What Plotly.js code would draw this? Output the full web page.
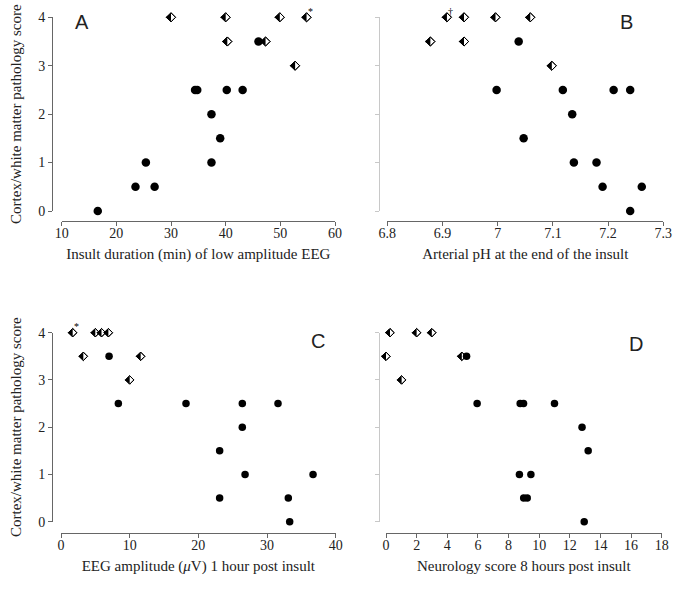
<!DOCTYPE html>
<html><head><meta charset="utf-8">
<script src="https://cdn.plot.ly/plotly-3.0.1.min.js"></script>
<style>html,body{margin:0;padding:0;background:#fff}#chart{width:685px;height:590px}</style>
</head><body><div id="chart"></div>
<script>
// ---------- data ----------
const scoreTicks = [0, 1, 2, 3, 4];

// A: insult duration (min) of low amplitude EEG
const A_circX = [16.6, 23.5, 27.0, 25.4, 37.4, 39.0, 37.4, 34.4, 34.8, 40.2, 43.1, 46.0];
const A_circY = [0, 0.5, 0.5, 1, 1, 1.5, 2, 2.5, 2.5, 2.5, 2.5, 3.5];
const A_diamX = [30.0, 40.0, 49.9, 54.8, 40.3, 47.3, 52.7];
const A_diamY = [4, 4, 4, 4, 3.5, 3.5, 3];
const A_diamNote = ['', '', '', '*', '', '', ''];
const A_ticks = [10, 20, 30, 40, 50, 60];

// B: arterial pH at the end of the insult
const B_circX = [7.038, 6.998, 7.118, 7.21, 7.24, 7.135, 7.047, 7.138, 7.179, 7.19, 7.261, 7.24];
const B_circY = [3.5, 2.5, 2.5, 2.5, 2.5, 2, 1.5, 1, 1, 0.5, 0.5, 0];
const B_diamX = [6.908, 6.939, 6.996, 7.059, 6.878, 6.939, 7.098];
const B_diamY = [4, 4, 4, 4, 3.5, 3.5, 3];
const B_diamNote = ['†', '', '', '', '', '', ''];
const B_ticks = [6.8, 6.9, 7.0, 7.1, 7.2, 7.3];
const B_tickText = ['6.8', '6.9', '7', '7.1', '7.2', '7.3'];

// C: EEG amplitude (uV) 1 hour post insult
const C_circX = [7.0, 8.35, 18.2, 26.4, 31.6, 26.4, 23.1, 26.8, 36.7, 23.1, 33.1, 33.3];
const C_circY = [3.5, 2.5, 2.5, 2.5, 2.5, 2, 1.5, 1, 1, 0.5, 0.5, 0];
const C_diamX = [1.7, 5.0, 5.9, 6.9, 3.25, 11.6, 10.0];
const C_diamY = [4, 4, 4, 4, 3.5, 3.5, 3];
const C_diamNote = ['*', '', '', '', '', '', ''];
const C_ticks = [0, 10, 20, 30, 40];

// D: neurology score 8 hours post insult
const D_circX = [5.26, 5.95, 8.76, 8.98, 11.0, 12.8, 13.2, 8.71, 9.46, 8.99, 9.22, 12.94];
const D_circY = [3.5, 2.5, 2.5, 2.5, 2.5, 2, 1.5, 1, 1, 0.5, 0.5, 0];
const D_diamX = [0.26, 2.0, 2.99, 0.0, 4.95, 1.02];
const D_diamY = [4, 4, 4, 3.5, 3.5, 3];
const D_diamNote = ['', '', '', '', '', ''];
const D_ticks = [0, 2, 4, 6, 8, 10, 12, 14, 16, 18];

const yTitle = 'Cortex/white matter pathology score';
const xTitles = {
  A: 'Insult duration (min) of low amplitude EEG',
  B: 'Arterial pH at the end of the insult',
  C: 'EEG amplitude (<i>μ</i>V) 1 hour post insult',
  D: 'Neurology score 8 hours post insult'
};

// ---------- layout geometry (pixels in a 685x590 page) ----------
const W = 685, H = 590;
const fx = p => p / W;
const fy = p => 1 - p / H;
const SERIF = '"Liberation Serif", "Times New Roman", serif';
const AXC = '#666';

const panels = [
  {k: 'A', xa: 'x', ya: 'y', cx: A_circX, cy: A_circY, dx: A_diamX, dy: A_diamY, note: A_diamNote,
   tv: A_ticks, tt: A_ticks.map(String), xr: [10, 60], xd: [61.7, 335], yd: [211, 17.3], xl: 221, yl: 52,
   main: true, letter: [82, 22], ms: 8.5, ds: 7},
  {k: 'B', xa: 'x2', ya: 'y2', cx: B_circX, cy: B_circY, dx: B_diamX, dy: B_diamY, note: B_diamNote,
   tv: B_ticks, tt: B_tickText, xr: [6.8, 7.3], xd: [387.3, 663.3], yd: [211, 17.3], xl: 221, yl: 379,
   main: false, letter: [626, 22], ms: 8.5, ds: 7},
  {k: 'C', xa: 'x3', ya: 'y3', cx: C_circX, cy: C_circY, dx: C_diamX, dy: C_diamY, note: C_diamNote,
   tv: C_ticks, tt: C_ticks.map(String), xr: [0, 40], xd: [61, 335.7], yd: [521.7, 332.7], xl: 533, yl: 52,
   main: true, letter: [318, 341], ms: 7.5, ds: 6.5},
  {k: 'D', xa: 'x4', ya: 'y4', cx: D_circX, cy: D_circY, dx: D_diamX, dy: D_diamY, note: D_diamNote,
   tv: D_ticks, tt: D_ticks.map(String), xr: [0, 18], xd: [386, 661.7], yd: [521.7, 332.7], xl: 533, yl: 379,
   main: false, letter: [636, 344], ms: 7.5, ds: 6.5}
];

const traces = [];
const layout = {
  width: W, height: H,
  margin: {l: 0, r: 0, t: 0, b: 0},
  paper_bgcolor: '#fff', plot_bgcolor: 'rgba(0,0,0,0)',
  showlegend: false,
  font: {family: SERIF, size: 14, color: '#222'},
  annotations: []
};

panels.forEach((p, i) => {
  const n = i === 0 ? '' : String(i + 1);
  // half-filled diamonds: white diamond, black left half, outline on top
  traces.push({type: 'scatter', mode: 'markers', x: p.dx, y: p.dy, xaxis: p.xa, yaxis: p.ya,
    cliponaxis: false, hoverinfo: 'skip',
    marker: {symbol: 'diamond', size: p.ds, color: '#fff', line: {color: '#000', width: 1}}});
  const ts = p.ds * 1.03;
  traces.push({type: 'scatter', mode: 'markers', x: p.dx, y: p.dy, xaxis: p.xa, yaxis: p.ya,
    cliponaxis: false, hoverinfo: 'skip',
    marker: {symbol: 'triangle-down', size: ts, angle: 90, standoff: ts / 4, color: '#000', line: {width: 0}}});
  traces.push({type: 'scatter', mode: 'markers', x: p.dx, y: p.dy, xaxis: p.xa, yaxis: p.ya,
    cliponaxis: false, text: p.note,
    marker: {symbol: 'diamond-open', size: p.ds, color: '#000', line: {color: '#000', width: 1}}});
  // filled circles
  traces.push({type: 'scatter', mode: 'markers', x: p.cx, y: p.cy, xaxis: p.xa, yaxis: p.ya,
    cliponaxis: false,
    marker: {symbol: 'circle', size: p.ms, color: '#000', line: {width: 0}}});

  // small superscript notes next to marked diamonds
  p.note.forEach((t, j) => {
    if (!t) return;
    layout.annotations.push({xref: p.xa, yref: p.ya, x: p.dx[j], y: p.dy[j], text: t,
      showarrow: false, xanchor: 'center', yanchor: 'middle', xshift: 4, yshift: 6,
      font: {family: SERIF, size: 10, color: '#000'}});
  });

  const yc = p.main ? AXC : '#c8c8c8';
  layout['xaxis' + n] = {
    domain: [fx(p.xd[0]), fx(p.xd[1])], range: p.xr, anchor: 'free', position: fy(p.xl),
    tickmode: 'array', tickvals: p.tv, ticktext: p.tt,
    ticks: 'outside', ticklen: 4, tickcolor: AXC, tickwidth: 1, ticklabelstandoff: -5,
    showline: true, linecolor: AXC, linewidth: 1, zeroline: false, showgrid: false,
    tickfont: {family: SERIF, size: 14, color: '#222'},
    title: {text: xTitles[p.k], standoff: 8, font: {family: SERIF, size: 15, color: '#222'}},
    fixedrange: true
  };
  layout['yaxis' + n] = {
    domain: [fy(p.yd[0]), fy(p.yd[1])], range: [0, 4], anchor: 'free', position: fx(p.yl),
    tickmode: 'array', tickvals: scoreTicks,
    ticks: 'outside', ticklen: 4, tickcolor: yc, tickwidth: 1,
    showline: true, linecolor: yc, linewidth: 1, zeroline: false, showgrid: false,
    showticklabels: p.main,
    tickfont: {family: SERIF, size: 14, color: '#222'},
    title: p.main ? {text: yTitle, standoff: 11, font: {family: SERIF, size: 15, color: '#222'}} : {text: ''},
    fixedrange: true
  };
  layout.annotations.push({xref: 'paper', yref: 'paper', x: fx(p.letter[0]), y: fy(p.letter[1]),
    text: p.k, showarrow: false, xanchor: 'center', yanchor: 'middle',
    font: {family: '"Liberation Sans", Arial, sans-serif', size: 20, color: '#222'}});
});

Plotly.newPlot('chart', traces, layout, {staticPlot: true, displayModeBar: false});
</script>
</body></html>
